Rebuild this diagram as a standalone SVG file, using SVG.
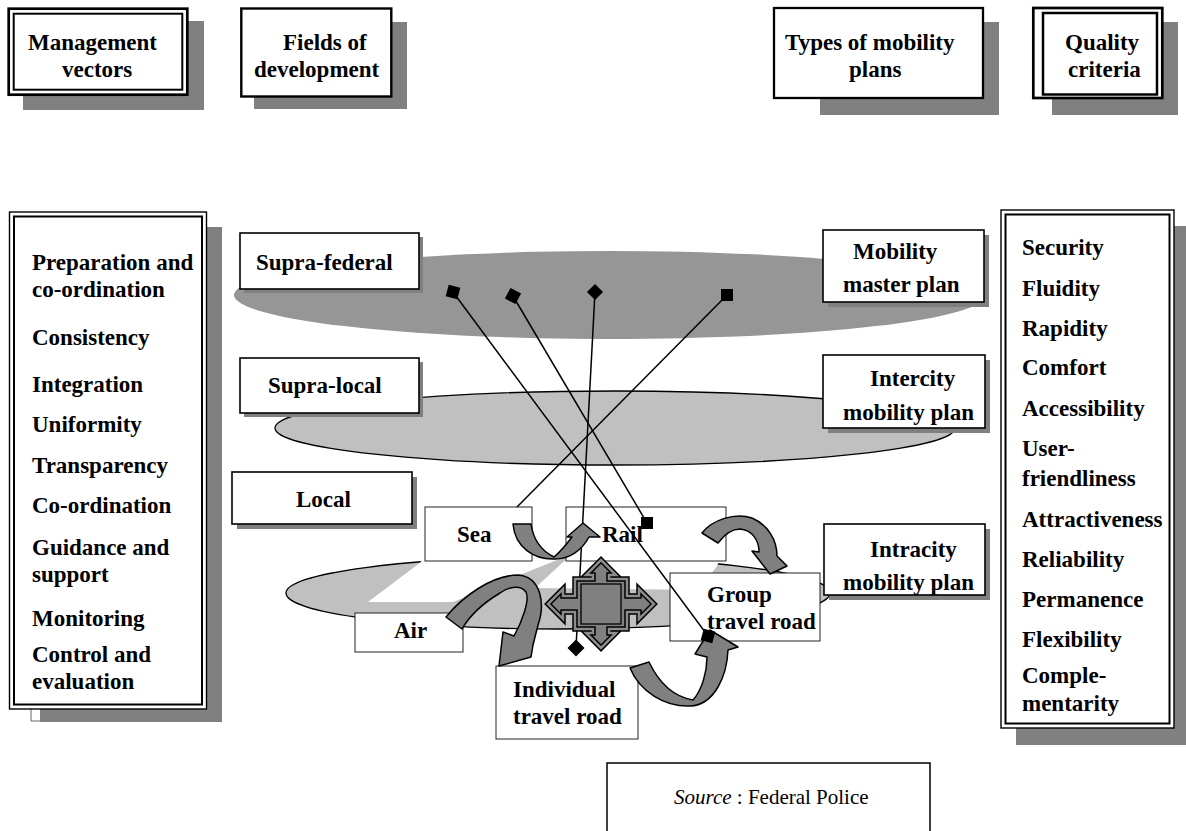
<svg xmlns="http://www.w3.org/2000/svg" width="1186" height="831" viewBox="0 0 1186 831">
  <style>
    .t { font-family: "Liberation Serif", "Times New Roman", serif; font-weight: bold; font-size: 23px; fill: #000; }
    .src { font-family: "Liberation Serif", "Times New Roman", serif; font-size: 21px; fill: #000; }
    .box { fill: #fff; stroke: #000; stroke-width: 1.6; }
    .thin { fill: #fff; stroke: #222; stroke-width: 1; }
    .frame { fill: none; stroke: #000; }
    .shadow { fill: #808080; }
    .link { stroke: #000; stroke-width: 1.5; fill: none; }
    .mark { fill: #000; }
    .carrow { fill: #808080; stroke: #000; stroke-width: 1.5; stroke-linejoin: round; }
  </style>
  <defs>
    <rect id="sq" x="-6" y="-6" width="12" height="12"/>
    <!-- four-way arrow outline, centred on the origin -->
    <path id="quad" d="M0,-44 L15,-29 L8,-29 L8,-25 L26,-25 L26,-8 L38,-8 L38,-15 L53,0 L38,15 L38,8 L26,8 L26,25 L8,25 L8,29 L15,29 L0,44 L-15,29 L-8,29 L-8,25 L-26,25 L-26,8 L-38,8 L-38,15 L-53,0 L-38,-15 L-38,-8 L-26,-8 L-26,-25 L-8,-25 L-8,-29 L-15,-29 Z"/>
  </defs>

  <rect width="1186" height="831" fill="#fff"/>

  <!-- planning levels drawn as flat discs -->
  <g id="levels">
    <ellipse cx="610" cy="295" rx="376" ry="44" fill="#969696"/>
    <ellipse cx="615" cy="428" rx="340" ry="37" fill="#c0c0c0" stroke="#000" stroke-width="1.3"/>
    <ellipse cx="558" cy="593" rx="272" ry="36" fill="#c0c0c0" stroke="#000" stroke-width="1.3"/>
    <path d="M368,602 L421,562 L424,554 L572,554 L453,602 Z" fill="#fff"/>
    <path d="M572,554 L722,554 L717,566 L700,590 L535,588 Z" fill="#fff"/>
  </g>

  <!-- column headers -->
  <g id="hdr-management">
    <rect class="shadow" x="23" y="21" width="181" height="89"/>
    <rect x="8.7" y="8.7" width="178.6" height="86" fill="#fff" stroke="#000" stroke-width="2.7"/>
    <rect class="frame" x="13.7" y="13.7" width="168.6" height="76" stroke-width="2"/>
    <text class="t" x="28" y="50">Management</text>
    <text class="t" x="62" y="77">vectors</text>
  </g>
  <g id="hdr-fields">
    <rect class="shadow" x="254" y="22" width="153" height="87"/>
    <rect x="241.3" y="8.5" width="150" height="88" fill="#fff" stroke="#000" stroke-width="2.4"/>
    <text class="t" x="283" y="50">Fields of</text>
    <text class="t" x="254" y="77">development</text>
  </g>
  <g id="hdr-types">
    <rect class="shadow" x="820" y="22" width="179" height="93"/>
    <rect x="774" y="8" width="209" height="90" fill="#fff" stroke="#000" stroke-width="2.3"/>
    <text class="t" x="785" y="50">Types of mobility</text>
    <text class="t" x="849" y="77">plans</text>
  </g>
  <g id="hdr-quality">
    <rect class="shadow" x="1052" y="22" width="126" height="93"/>
    <rect x="1033.3" y="8" width="129" height="90" fill="#fff" stroke="#000" stroke-width="2.7"/>
    <rect class="frame" x="1043" y="13" width="114" height="81.5" stroke-width="2.5"/>
    <text class="t" x="1065" y="50">Quality</text>
    <text class="t" x="1068" y="77">criteria</text>
  </g>

  <!-- management vectors list -->
  <g id="vectors">
    <rect class="shadow" x="40" y="227" width="182" height="495"/>
    <polyline points="31,709 31,721 40,721" fill="none" stroke="#666" stroke-width="1"/>
    <rect x="9.5" y="212" width="197" height="497" fill="#fff" stroke="#000" stroke-width="1.4"/>
    <rect class="frame" x="14" y="216.5" width="188" height="488" stroke-width="2"/>
    <text class="t" x="32" y="270">Preparation and</text>
    <text class="t" x="32" y="297">co-ordination</text>
    <text class="t" x="32" y="345">Consistency</text>
    <text class="t" x="32" y="392">Integration</text>
    <text class="t" x="32" y="432">Uniformity</text>
    <text class="t" x="32" y="473">Transparency</text>
    <text class="t" x="32" y="513">Co-ordination</text>
    <text class="t" x="32" y="555">Guidance and</text>
    <text class="t" x="32" y="582">support</text>
    <text class="t" x="32" y="626">Monitoring</text>
    <text class="t" x="32" y="662">Control and</text>
    <text class="t" x="32" y="689">evaluation</text>
  </g>

  <!-- quality criteria list -->
  <g id="criteria">
    <rect class="shadow" x="1016" y="226" width="172" height="519"/>
    <rect x="1001" y="210" width="173" height="518" fill="#fff" stroke="#000" stroke-width="1.4"/>
    <rect class="frame" x="1005.5" y="214.5" width="164" height="509" stroke-width="2"/>
    <text class="t" x="1022" y="255">Security</text>
    <text class="t" x="1022" y="296">Fluidity</text>
    <text class="t" x="1022" y="336">Rapidity</text>
    <text class="t" x="1022" y="375">Comfort</text>
    <text class="t" x="1022" y="416">Accessibility</text>
    <text class="t" x="1022" y="456">User-</text>
    <text class="t" x="1022" y="486">friendliness</text>
    <text class="t" x="1022" y="527">Attractiveness</text>
    <text class="t" x="1022" y="567">Reliability</text>
    <text class="t" x="1022" y="607">Permanence</text>
    <text class="t" x="1022" y="647">Flexibility</text>
    <text class="t" x="1022" y="683">Comple-</text>
    <text class="t" x="1022" y="711">mentarity</text>
  </g>

  <!-- fields of development -->
  <g id="supra-federal">
    <rect class="shadow" x="244" y="237" width="179" height="56"/>
    <rect class="box" x="240" y="233" width="179" height="56"/>
    <text class="t" x="256" y="270">Supra-federal</text>
  </g>
  <g id="supra-local">
    <rect class="shadow" x="244" y="362" width="179" height="55"/>
    <rect class="box" x="240" y="358" width="179" height="55"/>
    <text class="t" x="268" y="393">Supra-local</text>
  </g>
  <g id="local">
    <rect class="shadow" x="237" y="477" width="180" height="52"/>
    <rect class="box" x="232" y="472" width="180" height="52"/>
    <text class="t" x="296" y="507">Local</text>
  </g>

  <!-- types of mobility plans -->
  <g id="master-plan">
    <rect class="shadow" x="828" y="235" width="161" height="72"/>
    <rect class="box" x="823" y="230" width="161" height="72"/>
    <text class="t" x="853" y="259">Mobility</text>
    <text class="t" x="843" y="292">master plan</text>
  </g>
  <g id="intercity-plan">
    <rect class="shadow" x="828" y="360" width="162" height="73"/>
    <rect class="box" x="823" y="355" width="162" height="73"/>
    <text class="t" x="870" y="386">Intercity</text>
    <text class="t" x="843" y="420">mobility plan</text>
  </g>
  <g id="intracity-plan">
    <rect class="shadow" x="829" y="529" width="161" height="71"/>
    <rect class="box" x="824" y="524" width="161" height="71"/>
    <text class="t" x="870" y="557">Intracity</text>
    <text class="t" x="843" y="590">mobility plan</text>
  </g>

  <!-- transport modes -->
  <g id="sea">
    <rect class="thin" x="425" y="507" width="107" height="54"/>
    <text class="t" x="457" y="542">Sea</text>
  </g>
  <g id="rail">
    <rect class="thin" x="566" y="507" width="160" height="54" stroke="#555"/>
    <text class="t" x="602" y="542">Rail</text>
  </g>
  <g id="air">
    <rect class="thin" x="355" y="613" width="108" height="39"/>
    <text class="t" x="394" y="638">Air</text>
  </g>
  <g id="group-road">
    <rect class="thin" x="670" y="573" width="150" height="68"/>
    <text class="t" x="707" y="602">Group</text>
    <text class="t" x="707" y="629">travel road</text>
  </g>
  <g id="individual-road">
    <rect class="thin" x="496" y="666" width="142" height="73"/>
    <text class="t" x="513" y="697">Individual</text>
    <text class="t" x="513" y="724">travel road</text>
  </g>

  <g id="connectors">
    <g id="links">
      <line class="link" x1="453" y1="292" x2="708" y2="636"/>
      <line class="link" x1="513" y1="296" x2="647" y2="523"/>
      <line class="link" x1="595" y1="292" x2="576" y2="648"/>
      <line class="link" x1="727" y1="295" x2="517" y2="507"/>
    </g>
    <g id="mode-arrows">
      <path class="carrow" d="M513,524 L531,524 C533,538 540,550 554,557 C560,552 566,545 572,537 L567,537 L583,523 L600,537 L589,537 C582,550 570,559 555,559 C535,560 515,548 513,524 Z"/>
      <path class="carrow" d="M702,533 C712,520 735,512 752,518 C768,525 777,540 777,556 L787,566 L770,574 L752,551 L759,552 C759,540 752,530 740,529 C731,529 724,535 718,543 Z"/>
      <path class="carrow" d="M446,617 C462,597 492,575 518,575 C542,577 545,605 538,625 L533,645 L531,657 L499,666 L503,632 L514,636 C522,622 530,600 526,592 C521,585 510,586 500,593 C485,602 470,615 462,629 Z"/>
      <path class="carrow" d="M630,668 L649,662 C660,685 675,697 693,700 C702,690 707,672 707,657 L695,654 L710,630 L738,647 L728,650 C727,675 715,705 690,706 C665,707 640,692 630,668 Z"/>
      <g transform="translate(601,604)">
        <use href="#quad" fill="#808080" stroke="#000" stroke-width="5.5" stroke-linejoin="miter"/>
        <use href="#quad" fill="none" stroke="#8c8c8c" stroke-width="2.5" stroke-linejoin="miter"/>
        <rect x="-20" y="-20" width="40" height="40" fill="#808080" stroke="#000" stroke-width="1.3"/>
      </g>
    </g>
    <g id="link-ends" class="mark">
      <use href="#sq" transform="translate(453,292) rotate(15)"/>
      <use href="#sq" transform="translate(513,296) rotate(28)"/>
      <use href="#sq" transform="translate(595,292) rotate(45) scale(0.95)"/>
      <use href="#sq" transform="translate(727,295)"/>
      <use href="#sq" transform="translate(647,523)"/>
      <use href="#sq" transform="translate(708,636) rotate(15)"/>
      <use href="#sq" transform="translate(576,648) rotate(45)"/>
    </g>
  </g>

  <!-- credit -->
  <g id="source">
    <rect x="607" y="763" width="323" height="80" fill="#fff" stroke="#000" stroke-width="1.5"/>
    <text class="src" x="674" y="804"><tspan font-style="italic">Source</tspan> :  Federal Police</text>
  </g>
</svg>
